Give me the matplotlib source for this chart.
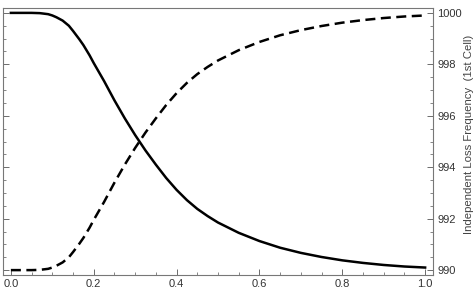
import matplotlib
matplotlib.use('Agg')
import matplotlib.pyplot as plt
from matplotlib.ticker import MultipleLocator

plt.rcParams['font.family'] = ['Liberation Sans', 'DejaVu Sans']

# values
x = [0.0, 0.05, 0.07, 0.09, 0.1, 0.11, 0.125, 0.14, 0.15, 0.165, 0.175, 0.19,
     0.2, 0.225, 0.25, 0.275, 0.3, 0.325, 0.35, 0.375, 0.4, 0.425, 0.45,
     0.475, 0.5, 0.55, 0.6, 0.65, 0.7, 0.75, 0.8, 0.85, 0.9, 0.95, 1.0]
solid = [1000.0, 1000.0, 999.99, 999.95, 999.9, 999.83, 999.7, 999.5, 999.3,
         998.98, 998.75, 998.35, 998.05, 997.35, 996.6, 995.9, 995.25, 994.65,
         994.1, 993.58, 993.12, 992.72, 992.38, 992.1, 991.85, 991.45, 991.13,
         990.87, 990.67, 990.51, 990.38, 990.28, 990.2, 990.14, 990.1]
dashed = [990.0, 990.0, 990.01, 990.05, 990.1, 990.17, 990.3, 990.5, 990.7,
          991.02, 991.25, 991.65, 991.95, 992.65, 993.4, 994.1, 994.75,
          995.35, 995.9, 996.42, 996.88, 997.28, 997.62, 997.9, 998.15,
          998.55, 998.87, 999.13, 999.33, 999.49, 999.62, 999.72, 999.8,
          999.86, 999.9]

fig = plt.figure(figsize=(4.74, 2.95), dpi=100)
ax = fig.add_axes([3/474, 1 - 275/295, 430/474, 267/295])

ax.plot(x, solid, color='black', lw=1.8, solid_joinstyle='round')
ax.plot(x, dashed, color='black', lw=1.8, ls=(0, (4, 2.2)))

ax.set_xlim(-0.019, 1.019)
ax.set_ylim(989.81, 1000.19)

ax.xaxis.set_major_locator(MultipleLocator(0.2))
ax.xaxis.set_minor_locator(MultipleLocator(0.05))
ax.yaxis.set_major_locator(MultipleLocator(2))
ax.yaxis.set_minor_locator(MultipleLocator(0.5))

ax.tick_params(which='both', direction='in', colors='#555555', labelcolor='#333333',
               labelsize=8, left=True, right=True, top=False, bottom=True,
               labelleft=False, labelright=True)
ax.tick_params(which='major', length=4.5, width=0.6)
ax.tick_params(which='minor', length=2.5, width=0.5)
ax.tick_params(axis='x', pad=3)
ax.tick_params(axis='y', pad=3)
ax.xaxis.set_major_formatter(plt.FuncFormatter(lambda v, p: f'{v:.1f}'))

for s in ax.spines.values():
    s.set_color('#777777')
    s.set_linewidth(0.8)

fig.text(469.5/474, 1 - 134/295, 'Independent Loss Frequency  (1st Cell)',
         rotation=90, ha='center', va='center', fontsize=8.2, color='#444444')

fig.savefig('out.png', dpi=100)
